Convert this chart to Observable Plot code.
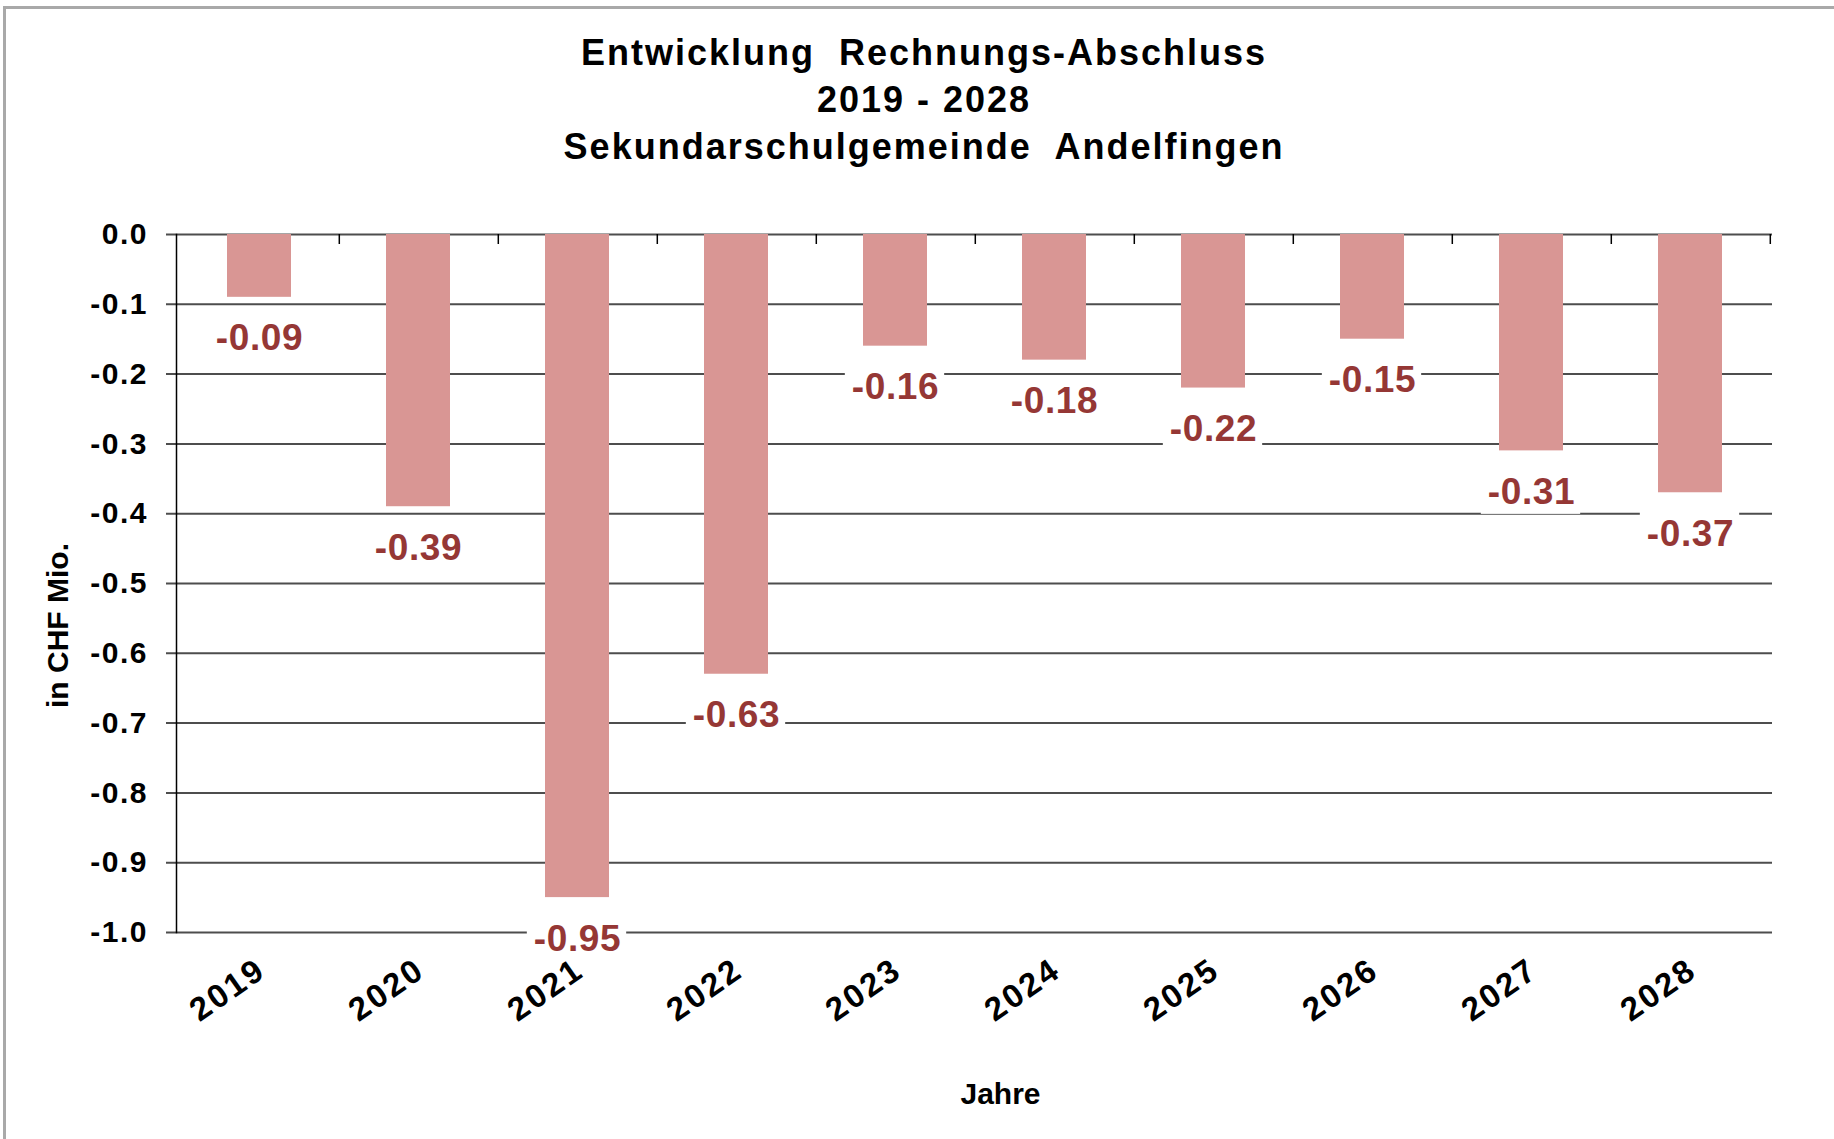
<!DOCTYPE html>
<html>
<head>
<meta charset="utf-8">
<script src="https://cdn.jsdelivr.net/npm/d3@7"></script>
<script src="https://cdn.jsdelivr.net/npm/@observablehq/plot@0.6"></script>
<style>
  html, body { margin: 0; padding: 0; background: #fff; overflow: hidden; }
  #wrap { position: relative; width: 1834px; height: 1139px; font-family: 'Liberation Sans', Arial, sans-serif; }
  #border { position: absolute; left: 3px; top: 6px; right: 0; bottom: 0; border-left: 3px solid #a9a9a9; border-top: 3px solid #a9a9a9; }
  #title { position: absolute; left: 0; top: 0; width: 1834px; box-sizing: border-box; padding-left: 14px; padding-top: 29px;
           text-align: center; font-weight: bold; font-size: 36px; line-height: 47px; letter-spacing: 2px; white-space: pre; color: #000; }
  #chart { position: absolute; left: 0; top: 180px; }
  #chart svg text { font-weight: bold; }
  #chart [aria-label="y-axis tick label"] text { letter-spacing: 1.5px; }
  #chart [aria-label="x-axis tick label"] text { letter-spacing: 2.5px; }
  #chart g.vlabels text { letter-spacing: 0.6px; }
</style>
</head>
<body>
<div id="wrap">
  <div id="border"></div>
  <div id="title"></div>
  <div id="chart"></div>
</div>
<script>
// ---- data ----
const titleLines = ["Entwicklung  Rechnungs-Abschluss", "2019 - 2028", "Sekundarschulgemeinde  Andelfingen"];
const years = ["2019", "2020", "2021", "2022", "2023", "2024", "2025", "2026", "2027", "2028"];
const values = [-0.09, -0.39, -0.95, -0.63, -0.16, -0.18, -0.22, -0.15, -0.31, -0.37];
const yTicks = [0.0, -0.1, -0.2, -0.3, -0.4, -0.5, -0.6, -0.7, -0.8, -0.9, -1.0];
const yLabel = "in CHF Mio.";
const xLabel = "Jahre";

// ---- build ----
document.getElementById("title").textContent = titleLines.join("\n");

const data = years.map((year, i) => ({year, value: values[i]}));

const W = 1834, H = 959;
const mL = 176, mR = 62, mT = 54, mB = 207;
const step = (W - mL - mR) / years.length;

const barColor = "#D99694";
const labelColor = "#953735";
const gridColor = "#4d4d4d";

const chart = Plot.plot({
  width: W,
  height: H,
  marginLeft: mL,
  marginRight: mR,
  marginTop: mT,
  marginBottom: mB,
  style: "font-family: 'Liberation Sans', Arial, sans-serif; background: transparent; overflow: visible; color: #000;",
  x: {type: "band", domain: years, paddingInner: 0.6, paddingOuter: 0.3},
  y: {domain: [-1, 0]},
  marks: [
    Plot.ruleY(yTicks, {stroke: gridColor, strokeWidth: 2, insetLeft: -10}),
    Plot.barY(data, {x: "year", y: "value", fill: barColor}),
    Plot.frame({anchor: "left", stroke: "#000", strokeWidth: 1.5}),
    Plot.axisX({anchor: "bottom", frameAnchor: "top", tickSize: 10, dx: step / 2, tickFormat: () => "", label: null, stroke: "#000", strokeWidth: 1.5}),
    Plot.axisX({anchor: "bottom", tickSize: 0, tickPadding: 23, tickRotate: -35, textAnchor: "end", lineAnchor: "top", fontSize: 33, dx: -5, label: null}),
    Plot.axisY({ticks: yTicks, tickSize: 0, tickPadding: 28.5, tickFormat: d => d.toFixed(1), fontSize: 30, label: null}),
    Plot.text(data, {x: "year", y: "value", text: d => d.value.toFixed(2), lineAnchor: "bottom", dy: 53, fill: labelColor, fontSize: 37, className: "vlabels"}),
    Plot.text([yLabel], {frameAnchor: "left", rotate: -90, textAnchor: "middle", lineAnchor: "middle", dx: -118, dy: 42, fontSize: 30, fill: "#000"}),
    Plot.text([xLabel], {frameAnchor: "bottom", textAnchor: "middle", lineAnchor: "middle", dx: 26, dy: 162, fontSize: 30, fill: "#000"})
  ]
});

document.getElementById("chart").appendChild(chart);

// white background boxes behind value labels (as in the original)
const ns = "http://www.w3.org/2000/svg";
let lg = chart.querySelector("g.vlabels") || chart.querySelector('g[fill="' + labelColor + '"]');
if (lg) {
  lg.querySelectorAll("text").forEach(t => {
    const b = t.getBBox();
    const r = document.createElementNS(ns, "rect");
    r.setAttribute("x", b.x - 7);
    r.setAttribute("y", b.y - 3);
    r.setAttribute("width", b.width + 12);
    r.setAttribute("height", b.height + 5);
    r.setAttribute("fill", "#fff");
    r.setAttribute("stroke", "none");
    const tr = t.getAttribute("transform");
    if (tr) r.setAttribute("transform", tr);
    lg.insertBefore(r, t);
  });
}
</script>
</body>
</html>
